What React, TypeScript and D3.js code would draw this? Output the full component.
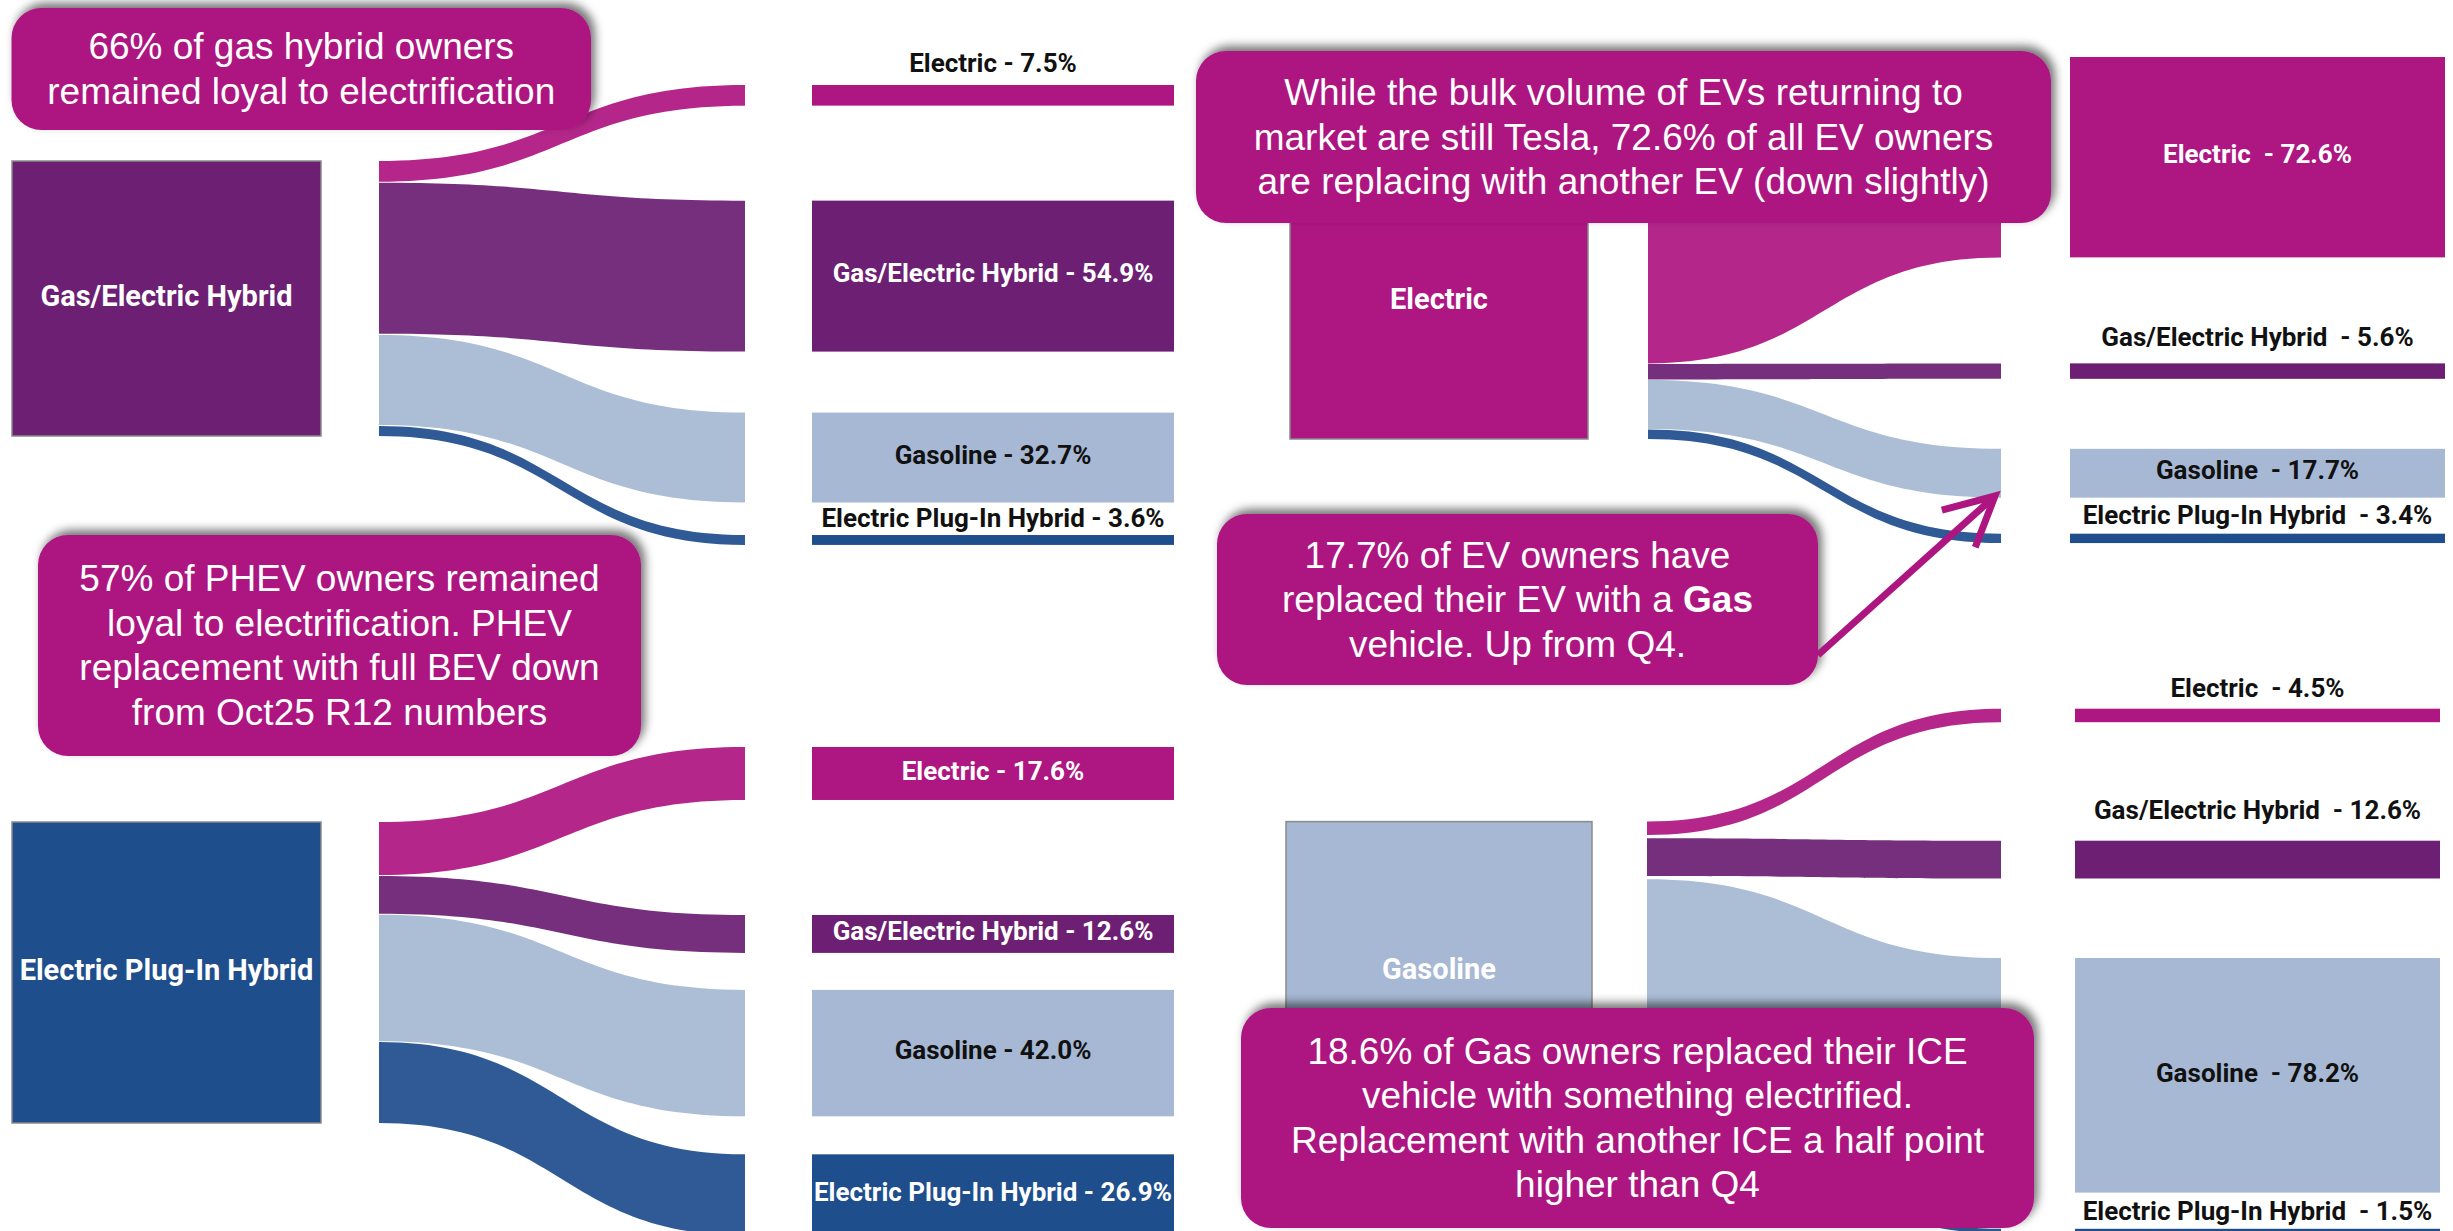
import React, { useEffect } from 'react';
import * as d3 from 'd3';

// ---------- DATA ----------
const categories = ['Electric', 'Gas/Electric Hybrid', 'Gasoline', 'Electric Plug-In Hybrid'];
const gasHybridShares = [7.5, 54.9, 32.7, 3.6];
const phevShares = [17.6, 12.6, 42.0, 26.9];
const electricShares = [72.6, 5.6, 17.7, 3.4];
const gasolineShares = [4.5, 12.6, 78.2, 1.5];

type Seg = [string, boolean];
const callout1Lines: Seg[][] = [
  [['66% of gas hybrid owners', false]],
  [['remained loyal to electrification', false]],
];
const callout2Lines: Seg[][] = [
  [['57% of PHEV owners remained', false]],
  [['loyal to electrification. PHEV', false]],
  [['replacement with full BEV down', false]],
  [['from Oct25 R12 numbers', false]],
];
const callout3Lines: Seg[][] = [
  [['While the bulk volume of EVs returning to', false]],
  [['market are still Tesla, 72.6% of all EV owners', false]],
  [['are replacing with another EV (down slightly)', false]],
];
const callout4Lines: Seg[][] = [
  [['17.7% of EV owners have', false]],
  [['replaced their EV with a ', false], ['Gas', true]],
  [['vehicle. Up from Q4.', false]],
];
const callout5Lines: Seg[][] = [
  [['18.6% of Gas owners replaced their ICE', false]],
  [['vehicle with something electrified.', false]],
  [['Replacement with another ICE a half point', false]],
  [['higher than Q4', false]],
];

// ---------- STYLE / LAYOUT ----------
const W = 2453;
const H = 1231;
const nodeColors = ['#AE1681', '#6C1F73', '#A6B8D3', '#1F4E8D'];
const insideText = ['#ffffff', '#ffffff', '#111111', '#ffffff'];
const calloutColor = '#AD1681';

const panels = [
  {
    source: 1, shares: gasHybridShares, sep: ' - ',
    node: [12, 321], link: [379, 745], target: [812, 1174],
    k: 2.75, sourceTop: 161, targetTop: 85, gaps: [95, 61, 32.5],
    lift: [13, null, null, 8],
  },
  {
    source: 3, shares: phevShares, sep: ' - ',
    node: [12, 321], link: [379, 745], target: [812, 1174],
    k: 3.01, sourceTop: 822, targetTop: 747, gaps: [115, 37, 38],
    lift: [null, null, null, null],
  },
  {
    source: 0, shares: electricShares, sep: '  - ',
    node: [1290, 1588], link: [1648, 2001], target: [2070, 2445],
    k: 2.76, sourceTop: 163, targetTop: 57, gaps: [106, 70, 36],
    lift: [null, 17, null, 10],
  },
  {
    source: 2, shares: gasolineShares, sep: '  - ',
    node: [1286, 1592], link: [1647, 2001], target: [2075, 2440],
    k: 3.0, sourceTop: 821.6, targetTop: 708.7, gaps: [118.5, 79.5, 36.2],
    lift: [12, 22, null, 9],
  },
];

const callouts = [
  { box: [11.5, 8, 591, 130], lines: callout1Lines },
  { box: [38, 535, 641, 756], lines: callout2Lines },
  { box: [1196, 51, 2051, 223], lines: callout3Lines },
  { box: [1217, 514, 1818, 685], lines: callout4Lines },
  { box: [1241, 1008, 2034, 1228], lines: callout5Lines },
];

const arrowTip = [1995, 496];
const arrowTail = [1818, 655];

function bandPath(x0: number, x1: number, y0t: number, y0b: number, y1t: number, y1b: number) {
  const p = d3.path();
  const xm = (x0 + x1) / 2;
  p.moveTo(x0, y0t);
  p.bezierCurveTo(xm, y0t, xm, y1t, x1, y1t);
  p.lineTo(x1, y1b);
  p.bezierCurveTo(xm, y1b, xm, y0b, x0, y0b);
  p.closePath();
  return p.toString();
}

function Panel({ cfg }: { cfg: any }) {
  const scale = d3.scaleLinear().domain([0, 100]).range([0, 100 * cfg.k]);
  const n = cfg.shares.length;
  const srcH = scale(100);
  const used = d3.sum(cfg.shares, (v: number) => scale(v));
  const linkGap = (srcH - used) / (n - 1);

  let ys = cfg.sourceTop;
  let yt = cfg.targetTop;
  const items = cfg.shares.map((v: number, i: number) => {
    const h = scale(v);
    const s0 = ys;
    const t0 = yt;
    ys += h + linkGap;
    yt += h + (cfg.gaps[i] ?? 0);
    return { v, i, h, s0, t0 };
  });

  const [nx0, nx1] = cfg.node;
  const [lx0, lx1] = cfg.link;
  const [tx0, tx1] = cfg.target;
  const tcx = (tx0 + tx1) / 2;

  return (
    <g>
      {items.map((d: any) => (
        <path
          key={'l' + d.i}
          d={bandPath(lx0, lx1, d.s0, d.s0 + d.h, d.t0, d.t0 + d.h)}
          fill={nodeColors[d.i]}
          fillOpacity={0.93}
        />
      ))}
      <rect
        x={nx0}
        y={cfg.sourceTop}
        width={nx1 - nx0}
        height={srcH}
        fill={nodeColors[cfg.source]}
        stroke="#8a8a8a"
        strokeWidth={1.5}
      />
      <text
        x={(nx0 + nx1) / 2}
        y={cfg.sourceTop + srcH / 2}
        dy="0.26em"
        textAnchor="middle"
        fontFamily="Roboto, 'Noto Sans', sans-serif"
        fontWeight={700}
        fontSize={29}
        fill="#ffffff"
      >
        {categories[cfg.source]}
      </text>
      {items.map((d: any) => {
        const label = `${categories[d.i]}${cfg.sep}${d.v.toFixed(1)}%`;
        const lift = cfg.lift[d.i];
        const inside = lift === null;
        return (
          <g key={'t' + d.i}>
            <rect x={tx0} y={d.t0} width={tx1 - tx0} height={d.h} fill={nodeColors[d.i]} />
            <text
              x={tcx}
              y={inside ? d.t0 + d.h / 2 : d.t0 - lift}
              dy={inside ? '0.24em' : 0}
              textAnchor="middle"
              fontFamily="Roboto, 'Noto Sans', sans-serif"
              fontWeight={700}
              fontSize={26}
              fill={inside ? insideText[d.i] : '#111111'}
              style={{ whiteSpace: 'pre' }}
            >
              {label}
            </text>
          </g>
        );
      })}
    </g>
  );
}

function Callout({ c }: { c: any }) {
  const [x0, y0, x1, y1] = c.box;
  const lh = 44.5;
  const cy = (y0 + y1) / 2;
  const first = cy - ((c.lines.length - 1) * lh) / 2 + 12.5;
  return (
    <g>
      <rect
        x={x0}
        y={y0}
        width={x1 - x0}
        height={y1 - y0}
        rx={30}
        ry={30}
        fill={calloutColor}
        filter="url(#shadow)"
      />
      {c.lines.map((segs: Seg[], li: number) => (
        <text
          key={li}
          x={(x0 + x1) / 2}
          y={first + li * lh}
          textAnchor="middle"
          fontFamily="'Liberation Sans', Arial, sans-serif"
          fontSize={37}
          fill="#ffffff"
          style={{ whiteSpace: 'pre' }}
        >
          {segs.map((s, si) => (
            <tspan key={si} fontWeight={s[1] ? 700 : 400}>
              {s[0]}
            </tspan>
          ))}
        </text>
      ))}
    </g>
  );
}

function Arrow() {
  const [tx, ty] = arrowTip;
  const [sx, sy] = arrowTail;
  const ang = Math.atan2(sy - ty, sx - tx);
  const len = 55;
  const half = (27 * Math.PI) / 180;
  const w1 = [tx + len * Math.cos(ang + half), ty + len * Math.sin(ang + half)];
  const w2 = [tx + len * Math.cos(ang - half), ty + len * Math.sin(ang - half)];
  const line = d3.line();
  return (
    <g fill="none" stroke={calloutColor} strokeWidth={7}>
      <path d={line([[sx, sy], [tx, ty]] as any) as string} />
      <path d={line([w1, [tx, ty], w2] as any) as string} strokeLinejoin="miter" />
    </g>
  );
}

export default function App() {
  useEffect(() => {
    document.body.style.margin = '0';
    document.body.style.overflow = 'hidden';
  }, []);
  return (
    <svg
      width={W}
      height={H}
      viewBox={`0 0 ${W} ${H}`}
      style={{ position: 'absolute', left: 0, top: 0, background: '#ffffff' }}
    >
      <defs>
        <filter id="shadow" x="-10%" y="-20%" width="120%" height="140%">
          <feDropShadow dx={4} dy={-5} stdDeviation={5} floodColor="#000" floodOpacity={0.55} />
        </filter>
      </defs>
      <rect x={0} y={0} width={W} height={H} fill="#ffffff" />
      {panels.map((p, i) => (
        <Panel key={i} cfg={p} />
      ))}
      {callouts.map((c, i) => (
        <Callout key={i} c={c} />
      ))}
      <Arrow />
    </svg>
  );
}
